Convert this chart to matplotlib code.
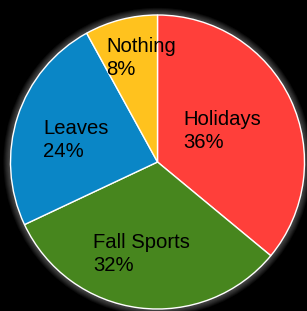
import matplotlib.pyplot as plt
from matplotlib.patches import Circle

# Data
labels = ["Holidays", "Fall Sports", "Leaves", "Nothing"]
values = [36, 32, 24, 8]
colors = ["#FF3F3A", "#47861E", "#0A86C6", "#FFC21E"]

# label anchor spots (pixel coords, y from top)
label_pos = [(183, 131), (93, 254), (43, 140), (106, 58)]

W, H = 307, 311
cx, cy, r = 157.5, 162, 147

fig = plt.figure(figsize=(W / 100, H / 100), dpi=100, facecolor="black")
ax = fig.add_axes([0, 0, 1, 1])
ax.set_facecolor("black")
ax.set_xlim(0, W)
ax.set_ylim(0, H)
ax.set_aspect("equal")
ax.axis("off")

# soft white glow round the pie
for k in range(8, 0, -1):
    ax.add_patch(Circle((cx, H - cy), r + k * 0.9, color="white",
                        alpha=0.045, lw=0, zorder=0))

ax.pie(values, colors=colors, startangle=90, counterclock=False,
       center=(cx, H - cy), radius=r,
       wedgeprops=dict(edgecolor="white", linewidth=1.0))
ax.set_xlim(0, W)
ax.set_ylim(0, H)

for lab, v, (x, y) in zip(labels, values, label_pos):
    ax.text(x, H - y, f"{lab}\n{v}%", ha="left", va="center",
            fontsize=14.6, family="Liberation Sans", color="black",
            linespacing=1.3, zorder=5)

fig.savefig("out.png", dpi=100, facecolor="black")
